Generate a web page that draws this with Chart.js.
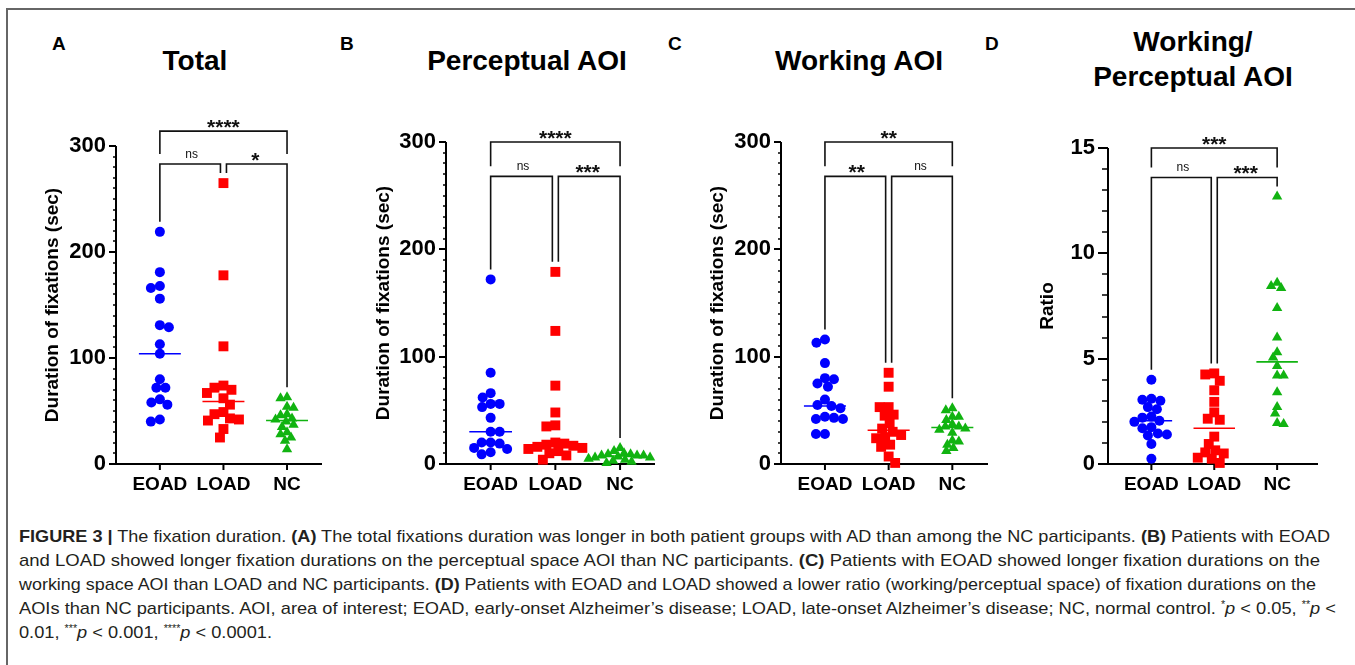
<!DOCTYPE html>
<html>
<head>
<meta charset="utf-8">
<script src="https://cdn.jsdelivr.net/npm/chart.js@4/dist/chart.umd.min.js"></script>
<style>
  body { margin: 0; background: #fff; font-family: "Liberation Sans", Arial, sans-serif; }
  #fig { position: relative; width: 1355px; height: 665px; overflow: hidden; }
  .frame-top { position: absolute; left: 7px; top: 8px; width: 1360px; height: 0; border-top: 2px solid #666; }
  .frame-left { position: absolute; left: 6px; top: 8px; width: 0; height: 700px; border-left: 2px solid #666; }
  canvas { position: absolute; top: 100px; }
  .letter { position: absolute; font-weight: bold; font-size: 19px; line-height: 20px; color: #000; }
  .ptitle { position: absolute; width: 400px; text-align: center; font-weight: bold; font-size: 28px; line-height: 35px; color: #000; }
  .cap { position: absolute; left: 19px; font-family: "Liberation Sans", sans-serif; font-size: 17px; line-height: 18px; color: #231f20; white-space: nowrap; }
  .cap span { display: inline-block; transform-origin: left center; }
  .cap sup { font-size: 10px; vertical-align: 6px; line-height: 0; }
</style>
</head>
<body>
<div id="fig">
  <div class="frame-top"></div>
  <div class="frame-left"></div>

  <div class="letter" style="left:52px; top:34px;">A</div>
  <div class="letter" style="left:340px; top:34px;">B</div>
  <div class="letter" style="left:668px; top:34px;">C</div>
  <div class="letter" style="left:985px; top:34px;">D</div>

  <div class="ptitle" style="left:-5px; top:43px;">Total</div>
  <div class="ptitle" style="left:327px; top:43px;">Perceptual AOI</div>
  <div class="ptitle" style="left:659px; top:43px;">Working AOI</div>
  <div class="ptitle" style="left:993px; top:24px;">Working/<br>Perceptual AOI</div>

  <canvas id="chartA" width="335" height="400" style="left:0px"></canvas>
  <canvas id="chartB" width="330" height="400" style="left:335px"></canvas>
  <canvas id="chartC" width="330" height="400" style="left:665px"></canvas>
  <canvas id="chartD" width="340" height="400" style="left:995px"></canvas>

  <div class="cap" style="top:528px;"><span class="j" data-w="1311"><b>FIGURE 3 |</b> The fixation duration. <b>(A)</b> The total fixations duration was longer in both patient groups with AD than among the NC participants. <b>(B)</b> Patients with EOAD</span></div>
  <div class="cap" style="top:552px;"><span class="j" data-w="1301">and LOAD showed longer fixation durations on the perceptual space AOI than NC participants. <b>(C)</b> Patients with EOAD showed longer fixation durations on the</span></div>
  <div class="cap" style="top:576px;"><span class="j" data-w="1297">working space AOI than LOAD and NC participants. <b>(D)</b> Patients with EOAD and LOAD showed a lower ratio (working/perceptual space) of fixation durations on the</span></div>
  <div class="cap" style="top:600px;"><span class="j" data-w="1317">AOIs than NC participants. AOI, area of interest; EOAD, early-onset Alzheimer’s disease; LOAD, late-onset Alzheimer’s disease; NC, normal control. <sup>*</sup><i>p</i> &lt; 0.05, <sup>**</sup><i>p</i> &lt;</span></div>
  <div class="cap" style="top:624px;"><span class="s">0.01, <sup>***</sup><i>p</i> &lt; 0.001, <sup>****</sup><i>p</i> &lt; 0.0001.</span></div>
</div>

<script>
const groups = ["EOAD", "LOAD", "NC"];

// (A) total fixation duration, sec
const totalEOAD = [219, 181, 168, 166, 156, 131, 129, 113, 104, 80, 72, 72, 61, 58, 56, 42, 40];
const totalLOAD = [265, 178, 111, 74, 72, 70, 67, 62, 56, 49, 47, 43, 42, 41, 33, 25];
const totalNC = [63, 62, 54, 53, 47, 46, 43, 42, 40, 37, 35, 30, 28, 25, 22, 14];
const totalMedian = [104, 59, 41];
const totalSig = ["ns", "*", "****"];

// (B) perceptual AOI, sec
const percEOAD = [172, 85, 66, 62, 56, 56, 53, 43, 30, 30, 20, 20, 19, 15, 14, 11, 9];
const percLOAD = [179, 124, 73, 48, 36, 35, 20, 19, 18, 17, 16, 15, 14, 12, 10, 8, 4];
const percNC = [15, 12, 10, 9, 9, 8, 8, 8, 7, 6, 6, 5, 4, 3, 2, 1];
const percMedian = [30, 18, 7.5];
const percSig = ["ns", "***", "****"];

// (C) working AOI, sec
const workEOAD = [116, 113, 94, 80, 79, 75, 72, 60, 55, 54, 52, 44, 43, 42, 42, 28, 28];
const workLOAD = [85, 72, 53, 53, 46, 45, 38, 33, 30, 27, 25, 24, 18, 16, 7, 1];
const workNC = [52, 50, 44, 44, 41, 37, 35, 35, 33, 32, 29, 22, 21, 18, 15, 12];
const workMedian = [54, 31.5, 34];
const workSig = ["**", "ns", "**"];

// (D) working / perceptual ratio
const ratioEOAD = [4.0, 3.1, 3.05, 3.0, 2.7, 2.6, 2.25, 2.2, 2.05, 2.0, 1.75, 1.7, 1.45, 1.4, 1.35, 0.95, 0.25];
const ratioLOAD = [4.3, 4.25, 3.95, 3.5, 2.95, 2.45, 2.15, 2.1, 1.3, 0.95, 0.65, 0.55, 0.5, 0.3, 0.25, 0.05];
const ratioNC = [12.7, 8.6, 8.45, 8.35, 7.4, 6.0, 5.3, 5.05, 4.65, 4.2, 4.2, 3.4, 2.7, 2.4, 1.95, 1.9];
const ratioMedian = [2.05, 1.7, 4.85];
const ratioSig = ["ns", "***", "***"];

const durationTicks = [0, 100, 200, 300];
const ratioTicks = [0, 5, 10, 15];

const FONT = "'Liberation Sans', Arial, sans-serif";
const colors = ["#0000ff", "#ff0000", "#11b311"];
const shapes = ["circle", "rect", "triangle"];
const radii = [5, 7, 6];
const spacing = [9, 9, 6.5];   // min distance between markers in the swarm, px

// axes with minor ticks + significance brackets, GraphPad style
const prismPlugin = {
  id: "prism",
  beforeDatasetsDraw(chart, args, o) {
    const ctx = chart.ctx, xs = chart.scales.x, ys = chart.scales.y;
    ctx.save();
    ctx.strokeStyle = "#000";
    ctx.lineWidth = 2;
    ctx.beginPath();
    ctx.moveTo(xs.left, ys.bottom + 1);
    ctx.lineTo(xs.left, ys.top);
    ctx.moveTo(xs.left - 1, ys.bottom);
    ctx.lineTo(xs.right, ys.bottom);
    ctx.stroke();
    for (let v = ys.min; v <= ys.max + 1e-9; v += o.minor) {
      const y = Math.round(ys.getPixelForValue(v));
      const r = v / o.major;
      const major = Math.abs(r - Math.round(r)) < 1e-6;
      ctx.lineWidth = major ? 2 : 1.5;
      ctx.beginPath();
      ctx.moveTo(xs.left, y);
      ctx.lineTo(xs.left - (major ? o.majorLen : o.minorLen), y);
      ctx.stroke();
    }
    ctx.lineWidth = 2;
    [1, 2, 3].forEach(c => {
      const x = xs.getPixelForValue(c);
      ctx.beginPath();
      ctx.moveTo(x, ys.bottom);
      ctx.lineTo(x, ys.bottom + 6);
      ctx.stroke();
    });
    ctx.restore();
  },
  afterDraw(chart, args, o) {
    const ctx = chart.ctx, xs = chart.scales.x, ys = chart.scales.y;
    const px = g => xs.getPixelForValue(g + 1);
    const legEnd = g => ys.getPixelForValue(Math.max(...chart.data.datasets[g].raw)) - 10;
    const yLow = ys.getPixelForValue(o.low), yTop = ys.getPixelForValue(o.top);
    ctx.save();
    ctx.strokeStyle = "#111";
    ctx.lineWidth = 1.6;
    const path = pts => {
      ctx.beginPath();
      ctx.moveTo(pts[0][0], pts[0][1]);
      pts.slice(1).forEach(p => ctx.lineTo(p[0], p[1]));
      ctx.stroke();
    };
    path([[px(0), legEnd(0)], [px(0), yLow], [px(1) - 3, yLow], [px(1) - 3, legEnd(1)]]);
    path([[px(1) + 3, legEnd(1)], [px(1) + 3, yLow], [px(2), yLow], [px(2), legEnd(2)]]);
    path([[px(0), yLow - 10], [px(0), yTop], [px(2), yTop], [px(2), yLow - 10]]);
    const label = (text, x, y) => {
      ctx.fillStyle = "#111";
      ctx.textAlign = "center";
      ctx.textBaseline = "alphabetic";
      if (text === "ns") {
        ctx.font = "12px " + FONT;
        ctx.fillText(text, x, y - 6);
      } else {
        ctx.font = "bold 21px " + FONT;
        ctx.fillText(text, x, y + 3);
      }
    };
    label(o.sig[0], (px(0) + px(1)) / 2, yLow);
    label(o.sig[1], (px(1) + px(2)) / 2, yLow);
    label(o.sig[2], (px(0) + px(2)) / 2, yTop);
    ctx.restore();
  }
};

// simple beeswarm: spread points sideways in pixel space so markers do not pile up
function swarm(chart) {
  const xs = chart.scales.x, ys = chart.scales.y;
  const pxPerX = (xs.right - xs.left) / (xs.max - xs.min);
  chart.data.datasets.forEach(ds => {
    if (!ds.raw) return;
    const D = spacing[ds.cat - 1];
    const placed = [];
    const offs = [];
    let flip = false;
    const order = ds.raw.map((v, i) => i).sort((a, b) => ds.raw[b] - ds.raw[a]);
    order.forEach(i => {
      const py = ys.getPixelForValue(ds.raw[i]);
      let found = null;
      for (let s = 0; s <= 80 && found === null; s += 0.5) {
        const cands = s === 0 ? [0] : (flip ? [s, -s] : [-s, s]);
        for (const o of cands) {
          const hit = placed.some(p => (o - p.o) * (o - p.o) + (py - p.y) * (py - p.y) < D * D);
          if (!hit) { found = o; break; }
        }
      }
      if (found !== 0) flip = !flip;
      placed.push({ o: found, y: py });
      offs[i] = found;
    });
    ds.data = ds.raw.map((v, i) => ({ x: ds.cat + offs[i] / pxPerX, y: v }));
  });
  chart.update("none");
}

function makePanel(id, series, medians, sig, p) {
  const datasets = series.map((vals, g) => ({
    type: "scatter",
    raw: vals,
    cat: g + 1,
    data: vals.map(v => ({ x: g + 1, y: v })),
    pointStyle: shapes[g],
    pointRadius: radii[g],
    pointHoverRadius: radii[g],
    backgroundColor: colors[g],
    borderColor: colors[g],
    borderWidth: 0,
    clip: false,
    order: 2
  }));
  medians.forEach((m, g) => {
    datasets.push({
      type: "line",
      data: [{ x: g + 1 - 0.33, y: m }, { x: g + 1 + 0.33, y: m }],
      borderColor: colors[g],
      borderWidth: 1.6,
      pointRadius: 0,
      clip: false,
      order: 1
    });
  });
  const chart = new Chart(document.getElementById(id), {
    data: { datasets },
    options: {
      responsive: false,
      animation: false,
      devicePixelRatio: 1,
      events: [],
      layout: { padding: { left: 0, top: p.padTop, right: p.padRight, bottom: 0 } },
      plugins: {
        legend: { display: false },
        tooltip: { enabled: false },
        prism: { minor: p.minor, major: p.major, majorLen: p.majorLen, minorLen: p.minorLen, low: p.low, top: p.top, sig }
      },
      scales: {
        x: {
          type: "linear",
          min: 0.31,
          max: p.xMax,
          grid: { display: false, drawTicks: false },
          border: { display: false },
          afterBuildTicks: s => { s.ticks = [1, 2, 3].map(v => ({ value: v })); },
          afterFit: s => { s.height = 36; },
          ticks: {
            autoSkip: false,
            maxRotation: 0,
            padding: 9,
            color: "#000",
            font: { family: FONT, size: 19, weight: "bold" },
            callback: v => groups[v - 1]
          }
        },
        y: {
          min: p.yTicks[0],
          max: p.yTicks[p.yTicks.length - 1],
          grid: { display: false, drawTicks: false },
          border: { display: false },
          afterBuildTicks: s => { s.ticks = p.yTicks.map(v => ({ value: v })); },
          afterFit: s => { s.width = p.axisWidth; },
          ticks: {
            padding: p.majorLen + 3,
            color: "#000",
            font: { family: FONT, size: 22, weight: "bold" }
          },
          title: {
            display: true,
            text: p.yTitle,
            color: "#000",
            font: { family: FONT, size: 19, weight: "bold" },
            padding: { top: p.titlePad, bottom: 0 }
          }
        }
      }
    },
    plugins: [prismPlugin]
  });
  swarm(chart);
  return chart;
}

const durTitle = "Duration of fixations (sec)";
makePanel("chartA", [totalEOAD, totalLOAD, totalNC], totalMedian, totalSig,
  { padTop: 46, padRight: 13, axisWidth: 116, xMax: 3.55, yTicks: durationTicks, yTitle: durTitle, titlePad: 41,
    minor: 10, major: 100, majorLen: 7, minorLen: 3, low: 283, top: 314 });
makePanel("chartB", [percEOAD, percLOAD, percNC], percMedian, percSig,
  { padTop: 42, padRight: 10, axisWidth: 111, xMax: 3.54, yTicks: durationTicks, yTitle: durTitle, titlePad: 37,
    minor: 10, major: 100, majorLen: 7, minorLen: 3, low: 268, top: 300 });
makePanel("chartC", [workEOAD, workLOAD, workNC], workMedian, workSig,
  { padTop: 42, padRight: 5, axisWidth: 116, xMax: 3.56, yTicks: durationTicks, yTitle: durTitle, titlePad: 41,
    minor: 10, major: 100, majorLen: 7, minorLen: 3, low: 268, top: 300 });
makePanel("chartD", [ratioEOAD, ratioLOAD, ratioNC], ratioMedian, ratioSig,
  { padTop: 48, padRight: 17, axisWidth: 113, xMax: 3.65, yTicks: ratioTicks, yTitle: "Ratio", titlePad: 41,
    minor: 1, major: 5, majorLen: 10, minorLen: 6, low: 13.6, top: 15 });

// squeeze caption lines to the justified widths of the original; last line uses the mean factor
const ks = [];
document.querySelectorAll(".cap span.j").forEach(el => {
  const k = +el.dataset.w / el.getBoundingClientRect().width;
  ks.push(k);
  el.style.transform = "scaleX(" + k + ")";
});
const kMean = ks.reduce((a, b) => a + b, 0) / ks.length;
document.querySelectorAll(".cap span.s").forEach(el => {
  el.style.transform = "scaleX(" + kMean + ")";
});
</script>
</body>
</html>
